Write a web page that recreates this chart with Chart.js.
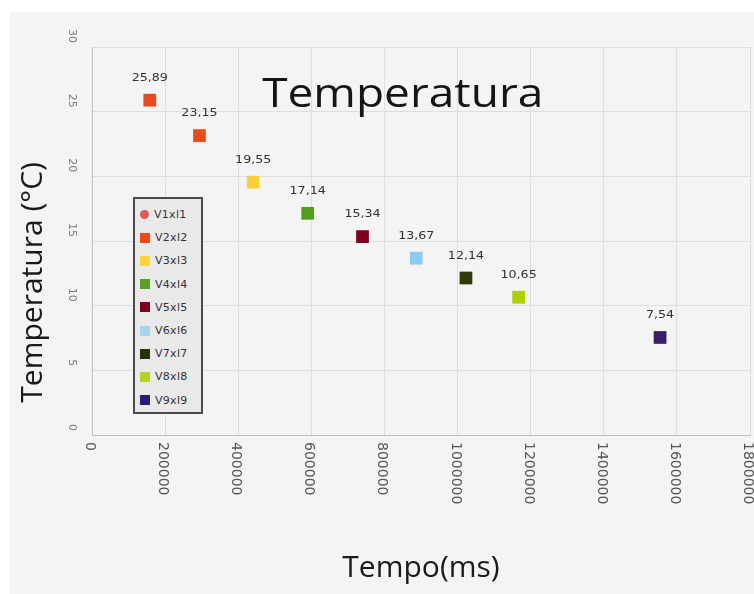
<!DOCTYPE html>
<html>
<head>
<meta charset="utf-8">
<script src="https://cdn.jsdelivr.net/npm/chart.js@4"></script>
<style>
  html, body { margin: 0; padding: 0; background: #fff; overflow: hidden; }
  #wrap { position: absolute; left: 10px; top: 12px; width: 744px; height: 582px; background: #f4f4f4; overflow: hidden; }
  #legend { position: absolute; left: 123px; top: 185px; width: 66px; height: 209px; border: 2px solid #4a4a4a; background: #e9e9e9; box-sizing: content-box; padding-top: 4px; }
  #legend .item { height: 23.2px; display: flex; align-items: center; font: 11px "DejaVu Sans", sans-serif; color: #333; letter-spacing: 0.3px; }
  #legend .mk { width: 10px; height: 10px; margin: 0 5px 0 5px; }
</style>
</head>
<body>
<div id="wrap">
  <canvas id="chart" width="749" height="582"></canvas>
  <div id="legend"></div>
</div>
<script>
// series (one point each)
const categories = ['V1xl1', 'V2xl2', 'V3xl3', 'V4xl4', 'V5xl5', 'V6xl6', 'V7xl7', 'V8xl8', 'V9xl9'];
const tempoValues = [158000, 294000, 441000, 590000, 740000, 887000, 1023000, 1167000, 1554000];
const tempValues = [25.89, 23.15, 19.55, 17.14, 15.34, 13.67, 12.14, 10.65, 7.54];
const seriesColors = ['#ea4a1e', '#ec4a18', '#f7d135', '#579d1c', '#7e0021', '#8ccbf5', '#2f3a0a', '#aecf00', '#3b1f66'];
const legendMarkers = ['circle', 'rect', 'rect', 'rect', 'rect', 'rect', 'rect', 'rect', 'rect'];
const legendColors = ['#e8545a', '#ee4a16', '#ffd33a', '#57a224', '#7e0021', '#a4d6f0', '#253303', '#b4d424', '#2c1a78'];

// axes
const xTickValues = [0, 200000, 400000, 600000, 800000, 1000000, 1200000, 1400000, 1600000, 1800000];
const yTickValues = [0, 5, 10, 15, 20, 25, 30];

const chartTitle = 'Temperatura';
const xTitle = 'Tempo(ms)';
const yTitle = 'Temperatura (°C)';

const fmt = v => v.toFixed(2).replace('.', ',');

// big title inside the plot area + y axis title (sits lower than centre)
const titlesPlugin = {
  id: 'titles',
  afterDatasetsDraw(chart) {
    const ctx = chart.ctx;
    const xs = chart.scales.x;
    const ys = chart.scales.y;
    ctx.save();
    ctx.font = '40px "Open Sans", sans-serif';
    ctx.fillStyle = '#151515';
    ctx.textAlign = 'center';
    ctx.textBaseline = 'alphabetic';
    ctx.translate(xs.getPixelForValue(850000), 95);
    ctx.scale(1.15, 1);
    ctx.fillText(chartTitle, 0, 0);
    ctx.restore();

    ctx.save();
    ctx.font = '30px "Open Sans", sans-serif';
    ctx.fillStyle = '#1a1a1a';
    ctx.textAlign = 'center';
    ctx.textBaseline = 'middle';
    ctx.translate(ys.left + 23, ys.getPixelForValue(11.8));
    ctx.rotate(-Math.PI / 2);
    ctx.fillText(yTitle, 0, 0);
    ctx.restore();
  }
};

// value labels above each point
const valueLabels = {
  id: 'valueLabels',
  afterDatasetsDraw(chart) {
    const ctx = chart.ctx;
    ctx.save();
    ctx.font = '11px "DejaVu Sans", sans-serif';
    ctx.fillStyle = '#333';
    ctx.textAlign = 'center';
    ctx.textBaseline = 'middle';
    chart.data.datasets.forEach((ds, i) => {
      const el = chart.getDatasetMeta(i).data[0];
      ctx.save();
      ctx.translate(el.x, el.y - 22);
      ctx.scale(1.15, 1);
      ctx.fillText(fmt(ds.data[0].y), 0, 0);
      ctx.restore();
    });
    ctx.restore();
  }
};

// turn tick labels so they read top to bottom
const turnLabels = {
  id: 'turnLabels',
  beforeDraw(chart) {
    const xs = chart.scales.x;
    xs.getLabelItems().forEach(it => {
      it.options.rotation = Math.PI / 2;
      it.options.textAlign = 'left';
      it.options.textBaseline = 'middle';
      it.options.translation = [it.options.translation[0] + 6, xs.top + 7];
      it.textOffset = 0;
    });
    const ys = chart.scales.y;
    ys.getLabelItems().forEach(it => {
      it.options.rotation = Math.PI / 2;
      it.options.textAlign = 'right';
      it.options.textBaseline = 'middle';
      it.options.translation = [ys.right - 20, it.options.translation[1] - 4];
      it.textOffset = 0;
    });
  }
};

new Chart(document.getElementById('chart'), {
  type: 'scatter',
  data: {
    datasets: categories.map((c, i) => ({
      label: c,
      data: [{ x: tempoValues[i], y: tempValues[i] }],
      backgroundColor: seriesColors[i],
      borderColor: seriesColors[i],
      borderWidth: 0,
      pointStyle: 'rect',
      pointRadius: 9,
      pointHoverRadius: 9
    }))
  },
  options: {
    responsive: false,
    animation: false,
    layout: { padding: { top: 35, right: 0, left: 0, bottom: 0 } },
    plugins: {
      legend: { display: false },
      title: { display: false },
      tooltip: { enabled: false }
    },
    scales: {
      x: {
        type: 'linear',
        min: 0,
        max: 1800000,
        afterBuildTicks: s => { s.ticks = xTickValues.map(v => ({ value: v })); },
        afterFit: s => { s.height = 159; s.paddingRight = 4; s.paddingLeft = 0; },
        grid: { color: '#dedede', drawTicks: false },
        border: { color: '#bdbdbd' },
        ticks: {
          minRotation: 90,
          maxRotation: 90,
          padding: 7,
          color: '#555',
          font: { family: 'DejaVu Sans', size: 14 },
          callback: v => String(v)
        },
        title: {
          display: true,
          text: xTitle,
          color: '#1a1a1a',
          font: { family: 'Open Sans', size: 30 },
          padding: { top: 0, bottom: 8 }
        }
      },
      y: {
        min: 0,
        max: 30,
        afterBuildTicks: s => { s.ticks = yTickValues.map(v => ({ value: v })); },
        afterFit: s => { s.width = 82; },
        grid: { color: '#dedede', drawTicks: false },
        border: { color: '#bdbdbd' },
        ticks: {
          minRotation: 90,
          maxRotation: 90,
          color: '#777',
          font: { family: 'DejaVu Sans', size: 11 },
          callback: v => String(v)
        }
      }
    }
  },
  plugins: [turnLabels, valueLabels, titlesPlugin]
});

// legend box built from the same arrays
const lg = document.getElementById('legend');
categories.forEach((c, i) => {
  const row = document.createElement('div');
  row.className = 'item';
  const mk = document.createElement('span');
  mk.className = 'mk';
  mk.style.background = legendColors[i];
  if (legendMarkers[i] === 'circle') { mk.style.borderRadius = '50%'; mk.style.width = '9px'; mk.style.height = '9px'; }
  row.appendChild(mk);
  row.appendChild(document.createTextNode(c));
  lg.appendChild(row);
});
</script>
</body>
</html>
